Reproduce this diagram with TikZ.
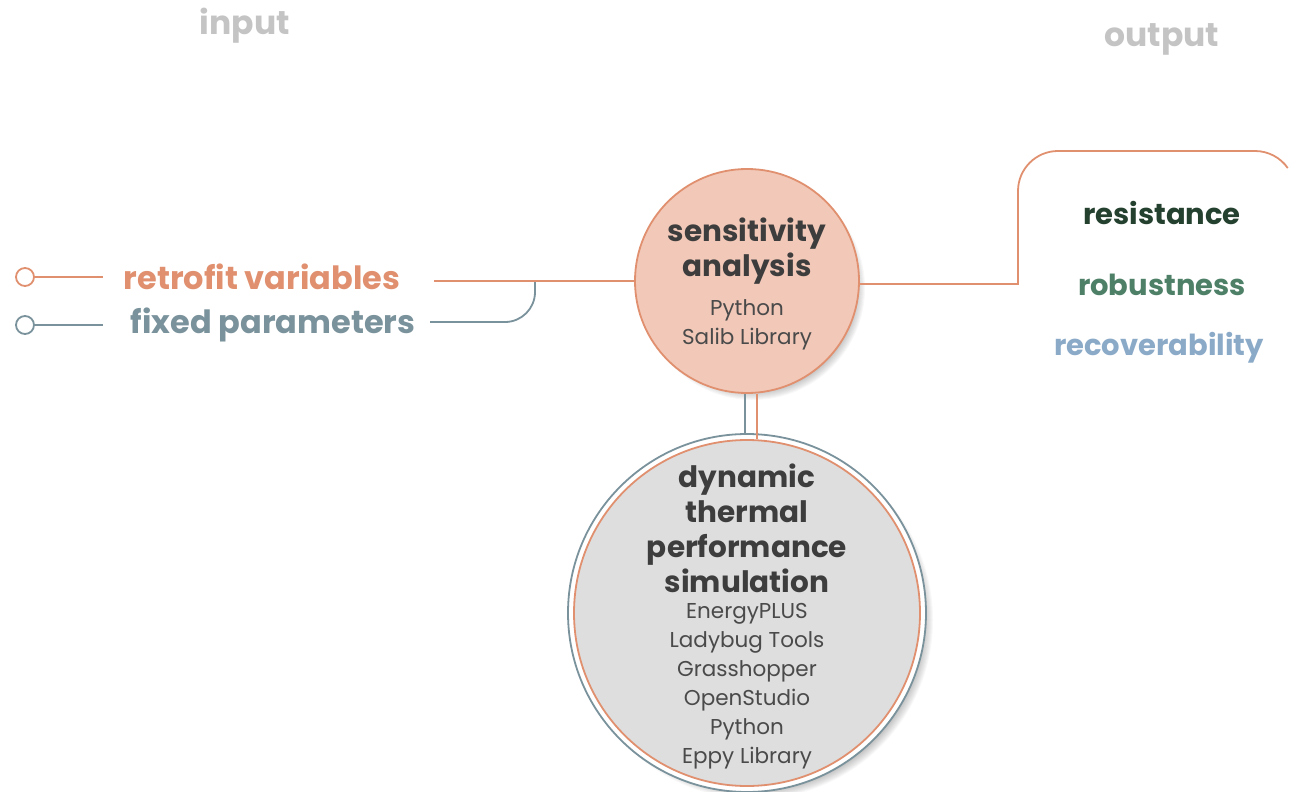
\documentclass[tikz,border=0pt]{standalone}
\usepackage{fontspec}
\setmainfont{Poppins}
\definecolor{sal}{HTML}{E0906F}
\definecolor{salfill}{HTML}{F2C8B8}
\definecolor{slate}{HTML}{7A929B}
\definecolor{lgray}{HTML}{C4C4C4}
\definecolor{dtext}{HTML}{3D3D3D}
\definecolor{ltext}{HTML}{4A4A4A}
\definecolor{bigfill}{HTML}{DEDEDE}
\definecolor{dgreen}{HTML}{24402E}
\definecolor{mgreen}{HTML}{4E8068}
\definecolor{lblue}{HTML}{8AAAC8}
\tikzset{
  head/.style={font=\fontsize{33}{36}\selectfont\bfseries, text=lgray},
  inlabel/.style={font=\fontsize{32}{36}\selectfont\bfseries, inner sep=0pt},
  outlabel/.style={font=\fontsize{29}{32}\selectfont\bfseries, inner sep=0pt},
  title/.style={font=\fontsize{29.5}{35}\selectfont\bfseries, text=dtext, align=center},
  sub/.style={font=\fontsize{21.5}{29}\selectfont, text=ltext, align=center},
  ring/.style={circle, draw, line width=1.8pt, minimum size=18pt, inner sep=0pt, fill=white},
  wire/.style={line width=1.8pt},
}
\begin{document}
\begin{tikzpicture}[x=1pt,y=-1pt]
\useasboundingbox (0,0) rectangle (1293,792);
% headings
\node[head] (hin) at (245,26) {input};
\node[head] (hout) at (1162,39) {output};
% inputs
\node[ring, draw=sal] (r1) at (25,277) {};
\node[ring, draw=slate] (r2) at (25,325) {};
\node[inlabel, text=sal] (rv) at (262,277) {retrofit variables};
\node[inlabel, text=slate] (fp) at (273,325) {fixed parameters};
\coordinate (rvl) at (103,277);
\coordinate (fpl) at (103,325);
\draw[wire, sal] (r1) -- (rvl);
\draw[wire, slate] (r2) -- (fpl);
% soft shadows
\foreach \i in {0,...,9} {
  \fill[black, opacity=0.028] (753,288) circle[radius=103+\i];
  \fill[black, opacity=0.028] (754,620) circle[radius=170+\i];
}
% sensitivity circle
\node[circle, draw=sal, fill=salfill, line width=1.8pt, minimum size=224pt] (sa) at (747,281) {};
\node[title] (sat) at (747,251) {sensitivity\\analysis};
\node[sub] (sas) at (747,325) {Python\\Salib Library};
% lines into sa
\coordinate (rvr) at (434,281);
\coordinate (fpr) at (430,322);
\coordinate (join) at (535,281);
\draw[wire, slate] (fpr) -- (505,322) arc[start angle=90, end angle=0, radius=30] -- (join);
\draw[wire, sal] (rvr) -- (sa.west);
% big circle
\node[circle, draw=slate, fill=white, line width=1.8pt, minimum size=358pt] (dt) at (747,613) {};
\node[circle, draw=sal, fill=bigfill, line width=1.8pt, minimum size=346pt] (dti) at (747,613) {};
\draw[wire, slate] (sa.south -| 745,0) -- (dt.north -| 745,0);
\draw[wire, sal] (sa.south -| 757,0) -- (dti.north -| 757,0);
\node[title] (dtt) at (747,528) {dynamic\\thermal\\performance\\simulation};
\node[sub] (dts) at (747,686) {EnergyPLUS\\Ladybug Tools\\Grasshopper\\OpenStudio\\Python\\Eppy Library};
% outputs
\coordinate (c1) at (1018,284);
\draw[wire, sal] (sa.east |- c1) -- (c1) -- (1018,191) arc[start angle=180, end angle=270, radius=40] -- (1255,151) arc[start angle=270, end angle=325, radius=40];
\node[outlabel, text=dgreen] (res) at (1162,213) {resistance};
\node[outlabel, text=mgreen] (rob) at (1162,285) {robustness};
\node[outlabel, text=lblue] (rec) at (1159,348) {recoverability};
\end{tikzpicture}
\end{document}
